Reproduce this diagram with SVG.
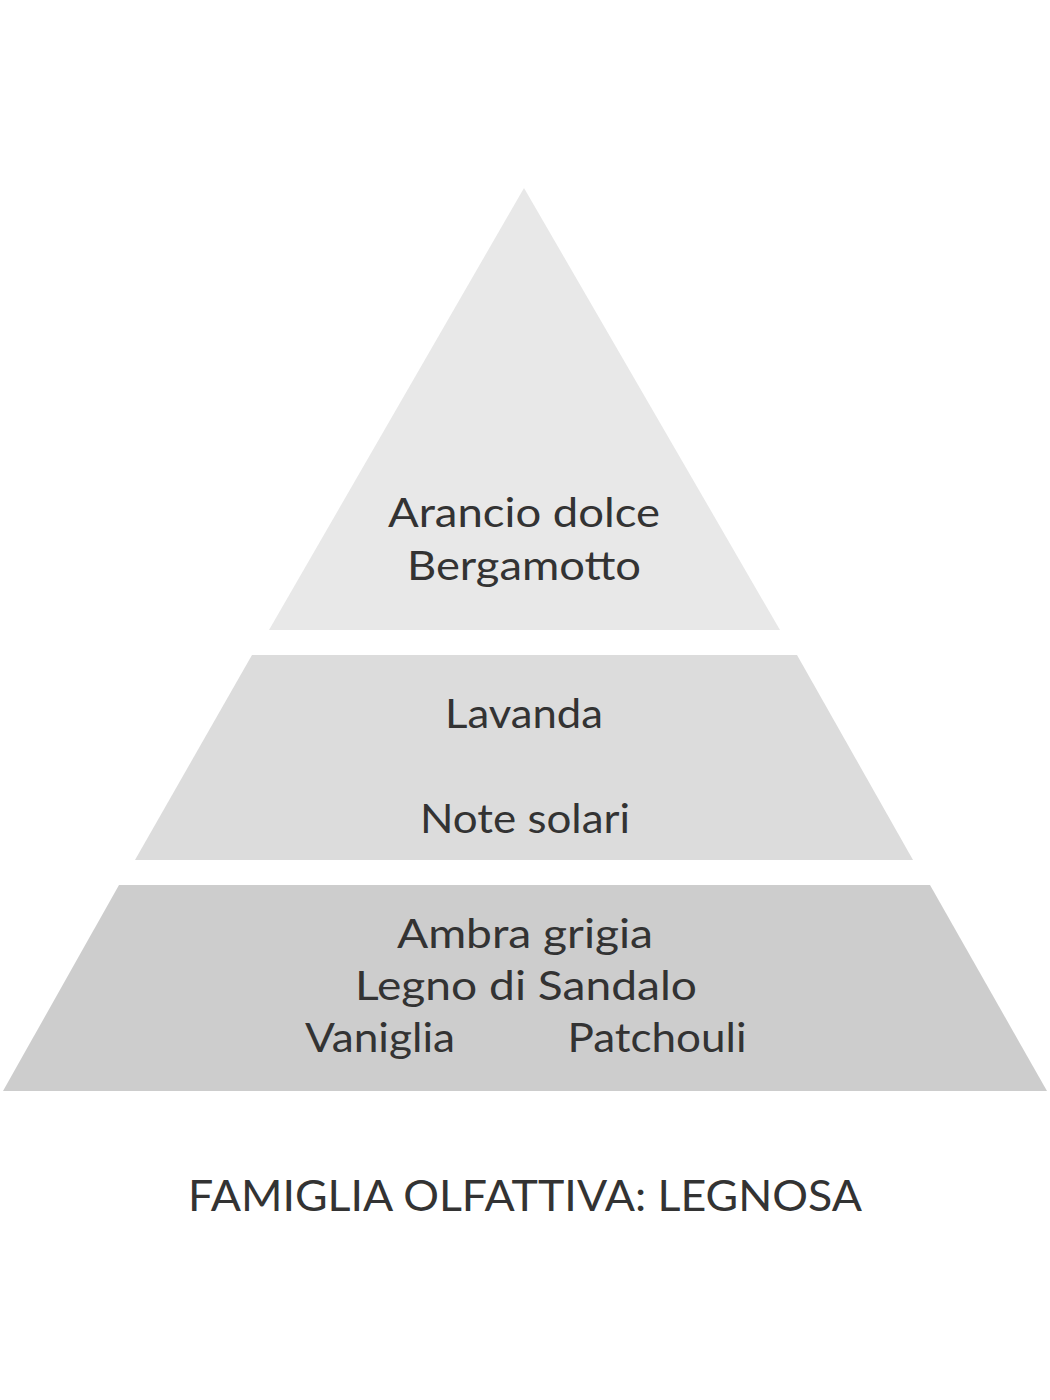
<svg xmlns="http://www.w3.org/2000/svg" width="1050" height="1400" viewBox="0 0 1050 1400">
<style>
.t{font-family:Lato,"Noto Sans","Liberation Sans",sans-serif;font-size:41px;fill:#333333;text-anchor:middle}
.title{font-family:Lato,"Noto Sans","Liberation Sans",sans-serif;font-size:42px;fill:#333333;text-anchor:middle}
</style>
<rect width="1050" height="1400" fill="#ffffff"/>
<g id="top">
<polygon points="524,188 780,630 269,630" fill="#e8e8e8"/>
<text class="t" x="524" y="527" textLength="272" lengthAdjust="spacingAndGlyphs">Arancio dolce</text>
<text class="t" x="524" y="580" textLength="234" lengthAdjust="spacingAndGlyphs">Bergamotto</text>
</g>
<g id="middle">
<polygon points="252,655 797,655 913,860 135,860" fill="#dcdcdc"/>
<text class="t" x="524" y="728" textLength="158" lengthAdjust="spacingAndGlyphs">Lavanda</text>
<text class="t" x="525" y="833" textLength="210" lengthAdjust="spacingAndGlyphs">Note solari</text>
</g>
<g id="base">
<polygon points="119,885 930,885 1047,1091 3,1091" fill="#cdcdcd"/>
<text class="t" x="525" y="948" textLength="256" lengthAdjust="spacingAndGlyphs">Ambra grigia</text>
<text class="t" x="526" y="1000" textLength="342" lengthAdjust="spacingAndGlyphs">Legno di Sandalo</text>
<text class="t" x="380" y="1052" textLength="150" lengthAdjust="spacingAndGlyphs">Vaniglia</text>
<text class="t" x="657" y="1052" textLength="179" lengthAdjust="spacingAndGlyphs">Patchouli</text>
</g>
<g id="connectors"></g>
<g id="caption">
<text class="title" x="525" y="1211" textLength="674" lengthAdjust="spacingAndGlyphs">FAMIGLIA OLFATTIVA: LEGNOSA</text>
</g>
</svg>
